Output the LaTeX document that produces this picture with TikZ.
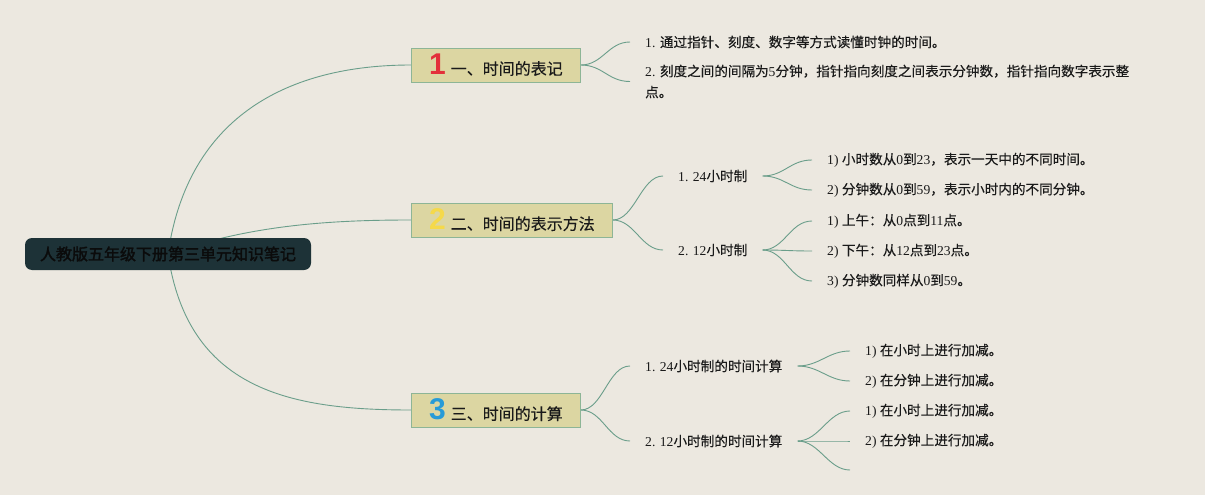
\documentclass[tikz,border=0pt]{standalone}
\usepackage{fontspec}
\setmainfont{Noto Sans CJK SC}[FakeBold=0.25]
\newfontfamily\latf{Liberation Serif}
\newfontfamily\numf{Liberation Sans}
\newfontfamily\cjkb[FakeBold=2]{Noto Sans CJK SC}
\usetikzlibrary{backgrounds}
\definecolor{bgC}{HTML}{ECE8E0}
\definecolor{lineC}{HTML}{6A9E8A}
\definecolor{boxF}{HTML}{DCD6A2}
\definecolor{boxB}{HTML}{8DB596}
\definecolor{rootF}{HTML}{1D3237}
\definecolor{rootT}{HTML}{0B0B0B}
\definecolor{txt}{HTML}{1A1A1A}
\definecolor{numR}{HTML}{E3303A}
\definecolor{numY}{HTML}{F5D94A}
\definecolor{numB}{HTML}{279BD8}
\newcommand\ls[1]{{\latf #1}}
\newcommand\bnum[2]{{\numf\bfseries\fontsize{30}{30}\selectfont\color{#1}#2}\hspace{5pt}}
\begin{document}
\begin{tikzpicture}[x=1pt,y=-1pt,
  conn/.style={draw=lineC, line width=0.9pt},
  root/.style={fill=rootF, rounded corners=7pt, minimum width=286pt, minimum height=32pt, inner sep=0pt, text=rootT, font=\cjkb\fontsize{16}{18}\selectfont},
  branch/.style={draw=boxB, fill=boxF, line width=0.8pt, minimum height=34pt, inner xsep=0pt, inner ysep=0pt, anchor=west, text=txt, font=\fontsize{16}{18}\selectfont},
  leaf/.style={anchor=west, inner xsep=15pt, inner ysep=2pt, text=txt, align=left, font=\fontsize{13.6}{21}\selectfont},
]
\useasboundingbox (0,0) rectangle (1205,495);

\node[root] (root) at (168,254) {人教版五年级下册第三单元知识笔记};

\node[branch, minimum width=169pt] (b1) at (411,65) {\bnum{numR}{1}一、时间的表记};
\node[branch, minimum width=201pt] (b2) at (411,220) {\bnum{numY}{2}二、时间的表示方法};
\node[branch, minimum width=169pt] (b3) at (411,410) {\bnum{numB}{3}三、时间的计算};

% branch 1 leaves
\node[leaf] (l1a) at (630,42) {\ls{1. }通过指针、刻度、数字等方式读懂时钟的时间。};
\node[leaf] (l1b) at (630,81.5) {\ls{2. }刻度之间的间隔为\ls{5}分钟，指针指向刻度之间表示分钟数，指针指向数字表示整\\点。};

% branch 2
\node[leaf] (m21) at (663,176) {\ls{1. 24}小时制};
\node[leaf] (m22) at (663,250) {\ls{2. 12}小时制};
\node[leaf] (l211) at (812,160) {\ls{1) }小时数从\ls{0}到\ls{23}，表示一天中的不同时间。};
\node[leaf] (l212) at (812,190) {\ls{2) }分钟数从\ls{0}到\ls{59}，表示小时内的不同分钟。};
\node[leaf] (l221) at (812,221) {\ls{1) }上午：从\ls{0}点到\ls{11}点。};
\node[leaf] (l222) at (812,251) {\ls{2) }下午：从\ls{12}点到\ls{23}点。};
\node[leaf] (l223) at (812,281) {\ls{3) }分钟数同样从\ls{0}到\ls{59}。};

% branch 3
\node[leaf] (m31) at (630,366) {\ls{1. 24}小时制的时间计算};
\node[leaf] (m32) at (630,441) {\ls{2. 12}小时制的时间计算};
\node[leaf] (l311) at (850,351) {\ls{1) }在小时上进行加减。};
\node[leaf] (l312) at (850,381) {\ls{2) }在分钟上进行加减。};
\node[leaf] (l321) at (850,411) {\ls{1) }在小时上进行加减。};
\node[leaf] (l322) at (850,441) {\ls{2) }在分钟上进行加减。};
\coordinate (l323) at (850,470);

\begin{scope}[on background layer]
\fill[bgC] (0,0) rectangle (1205,495);
\draw[conn] (root.center) .. controls (188,115) and (290,65) .. (b1.west);
\draw[conn] (root.center) .. controls (250,225) and (330,220) .. (b2.west);
\draw[conn] (root.center) .. controls (188,390) and (290,410) .. (b3.west);

\foreach \a/\b in {b1/l1a, b1/l1b, b2/m21, b2/m22, m21/l211, m21/l212, m22/l221, m22/l222, m22/l223, b3/m31, b3/m32, m31/l311, m31/l312, m32/l321, m32/l322, m32/l323}
  \draw[conn] (\a.east) .. controls +(22,0) and +(-22,0) .. (\b.west);
\end{scope}
\end{tikzpicture}
\end{document}
